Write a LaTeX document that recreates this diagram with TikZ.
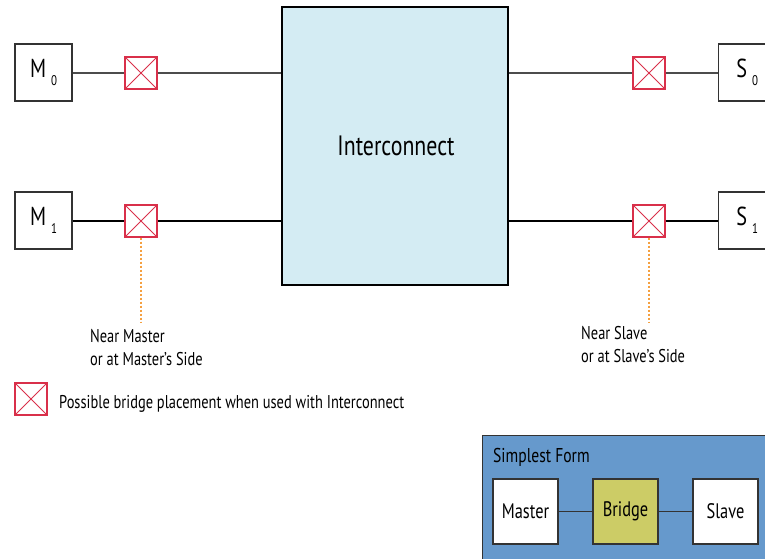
\documentclass[tikz,border=0pt]{standalone}
\usepackage{fontspec}
\setmainfont{PT Sans}[FakeStretch=0.78]
\definecolor{icfill}{HTML}{D4ECF3}
\definecolor{bred}{HTML}{D9304A}
\definecolor{dotorange}{HTML}{F5A040}
\definecolor{sfblue}{HTML}{6699CC}
\definecolor{brfill}{HTML}{CCCC66}
\definecolor{edge}{HTML}{333333}
\tikzset{
  unitbox/.style={draw=edge, line width=1.3pt, fill=white, minimum width=57pt, minimum height=57pt, inner sep=0pt, font=\fontsize{26}{26}\selectfont},
  bridgebox/.style={draw=bred, line width=1.3pt, fill=white, minimum width=32pt, minimum height=32pt, inner sep=0pt,
    path picture={\draw[bred, line width=0.9pt] (path picture bounding box.north west) -- (path picture bounding box.south east)
      (path picture bounding box.north east) -- (path picture bounding box.south west);}},
  wire/.style={line width=1.3pt},
  guide/.style={dotorange, line width=2.2pt, dash pattern=on 2pt off 2pt},
  label/.style={font=\fontsize{18.5}{23}\selectfont, align=left, inner sep=0pt},
  sfbox/.style={draw=edge, line width=1.2pt, minimum width=65pt, minimum height=65pt, inner sep=0pt, font=\fontsize{21}{21}\selectfont}
}
\newcommand{\subidx}[1]{\kern5pt\raisebox{-8pt}{\fontsize{14}{14}\selectfont #1}}
\begin{document}
\begin{tikzpicture}[x=1pt,y=-1pt]
\clip (0,0) rectangle (765,558);
\fill[white] (0,0) rectangle (765,558);
% interconnect
\node[draw=black, line width=1.5pt, fill=icfill, minimum width=226pt, minimum height=278pt, inner sep=0pt] (IC) at (395,146) {};
\node[font=\fontsize{28}{28}\selectfont] (ICt) at (396,146) {Interconnect};
% masters and slaves
\node[unitbox] (M0) at (43.5,72.5) {M\subidx{0}};
\node[unitbox] (M1) at (43.5,220.5) {M\subidx{1}};
\node[unitbox, anchor=west] (S0) at (718,72.5) {S\subidx{0}};
\node[unitbox, anchor=west] (S1) at (718,220.5) {S\subidx{1}};
% bridges
\node[bridgebox] (BM0) at (141,73) {};
\node[bridgebox] (BM1) at (141,221) {};
\node[bridgebox] (BS0) at (649,73) {};
\node[bridgebox] (BS1) at (649,221) {};
% wires
\draw[wire, draw=black!70] (M0.east |- BM0.west) -- (BM0.west);
\draw[wire, draw=black!70] (BM0.east) -- (BM0.east -| IC.west);
\draw[wire] (M1.east |- BM1.west) -- (BM1.west);
\draw[wire] (BM1.east) -- (BM1.east -| IC.west);
\draw[wire, draw=black!70] (IC.east |- BS0.west) -- (BS0.west);
\draw[wire, draw=black!70] (BS0.east) -- (S0.west |- BS0.east);
\draw[wire] (IC.east |- BS1.west) -- (BS1.west);
\draw[wire] (BS1.east) -- (S1.west |- BS1.east);
% guides
\coordinate (gM) at (141,322);
\coordinate (gS) at (649,322);
\draw[guide] (BM1.south) -- (gM);
\draw[guide] (BS1.south) -- (gS);
\node[label, anchor=north west] (tM) at (90,329) {Near Master\\or at Master’s Side};
\node[label, anchor=north west] (tS) at (581,326) {Near Slave\\or at Slave’s Side};
% legend
\node[bridgebox] (LB) at (31,399) {};
\node[label, anchor=west] (LT) at (59,404) {Possible bridge placement when used with Interconnect};
% simplest form
\node[draw=edge, line width=1.2pt, fill=sfblue, minimum width=300pt, minimum height=140pt, anchor=north west, inner sep=0pt] (SF) at (482,435) {};
\node[font=\fontsize{20}{20}\selectfont, anchor=base west, inner sep=0pt] (SFt) at (493,462) {Simplest Form};
\node[sfbox, fill=white] (SM) at (525.5,511.5) {Master};
\node[sfbox, fill=brfill] (SB) at (625.5,511.5) {Bridge};
\node[sfbox, fill=white] (SSl) at (725.5,511.5) {Slave};
\draw[line width=1.2pt, draw=edge] (SM) -- (SB);
\draw[line width=1.2pt, draw=edge] (SB) -- (SSl);
\end{tikzpicture}
\end{document}
